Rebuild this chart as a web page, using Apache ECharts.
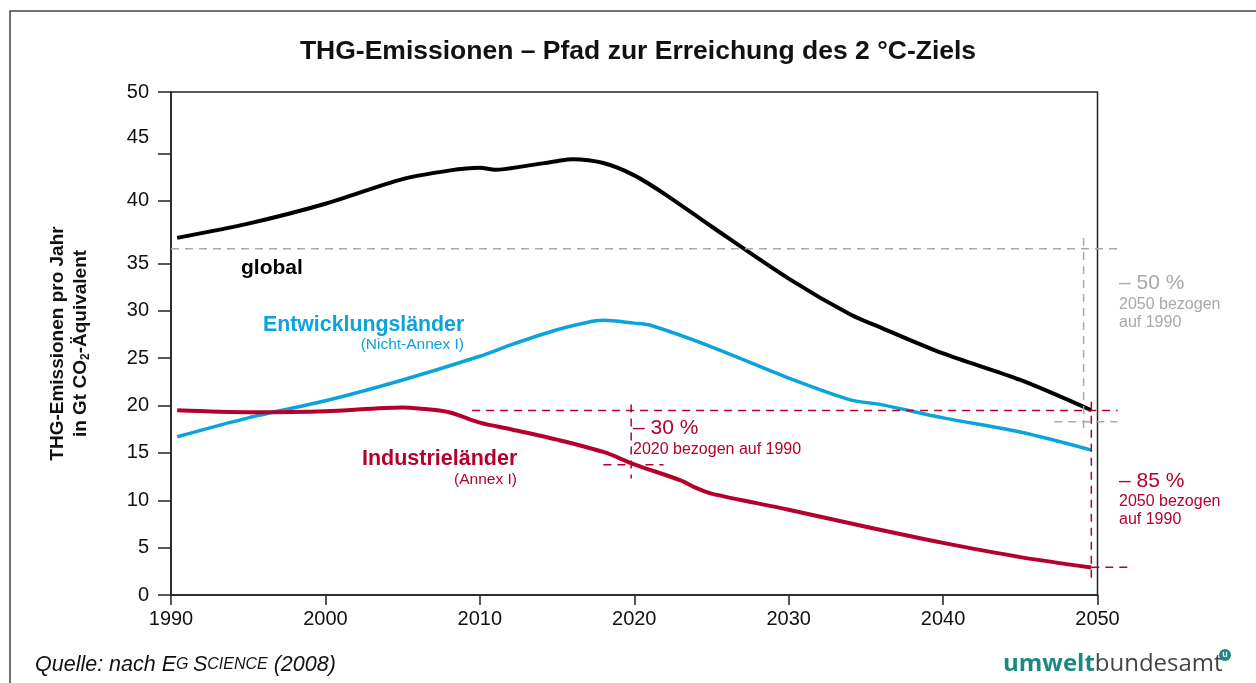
<!DOCTYPE html>
<html>
<head>
<meta charset="utf-8">
<script src="https://cdn.jsdelivr.net/npm/echarts@6/dist/echarts.min.js"></script>
<style>
  html, body { margin: 0; padding: 0; background: #fff; }
  #main { width: 1256px; height: 683px; }
</style>
</head>
<body>
<div id="main"></div>
<script>
// Jahre und Werte (Gt CO2-Äquivalent)
var globalYears = [1990.4, 1995, 2000, 2005, 2008, 2010, 2011, 2013, 2015, 2016, 2018, 2020, 2022, 2025, 2030, 2034, 2036, 2040, 2045, 2049.6];
var globalValues = [37.7, 39.2, 41.3, 43.9, 44.8, 45.1, 44.9, 45.3, 45.8, 46.0, 45.6, 44.3, 42.3, 38.9, 33.4, 29.6, 28.2, 25.5, 22.7, 19.5];

var nichtAnnexYears = [1990.4, 1995, 2000, 2005, 2010, 2012, 2015, 2017, 2018, 2020, 2021, 2025, 2030, 2034, 2036, 2040, 2045, 2049.6];
var nichtAnnexValues = [16.7, 18.7, 20.5, 22.7, 25.2, 26.4, 28.0, 28.8, 29.0, 28.7, 28.5, 26.2, 22.9, 20.6, 20.1, 18.7, 17.2, 15.3];

var annexYears = [1990.4, 1995, 2000, 2005, 2006, 2008, 2010, 2012, 2015, 2018, 2020, 2023, 2024, 2025, 2030, 2035, 2040, 2045, 2049.6];
var annexValues = [19.5, 19.3, 19.4, 19.8, 19.7, 19.3, 18.2, 17.5, 16.4, 15.1, 13.8, 12.1, 11.3, 10.7, 9.0, 7.2, 5.5, 4.0, 2.9];

// Achsenbeschriftung
var yTickValues = [0, 5, 10, 15, 20, 25, 30, 35, 41.6, 46.6, 53.1];
var yLabelValues = [0, 5, 10, 15, 20, 25, 30, 35, 41.6, 48.3, 53.1];
var yLabelTexts = ['0', '5', '10', '15', '20', '25', '30', '35', '40', '45', '50'];

// Bezugslinien (Jahr, Wert) – 1990-Niveau und Minderungsziele
var greyRefLines = [
  [[1990, 36.55], [2051.3, 36.55]],
  [[2049.1, 37.7], [2049.1, 17.6]],
  [[2047.2, 18.3], [2051.3, 18.3]]
];
var redRefLines = [
  [[2009.5, 19.47], [2051.3, 19.47]],
  [[2049.6, 20.4], [2049.6, 1.8]],
  [[2049.6, 2.92], [2052, 2.92]],
  [[2019.8, 20.1], [2019.8, 12.3]],
  [[2018, 13.75], [2021.9, 13.75]]
];

var RED = '#b5002b';
var BLUE = '#0aa3dc';
var GREY = '#a9a9a9';
var FONT = '"Liberation Sans", Arial, sans-serif';

function pairs(xs, ys) {
  return xs.map(function (x, i) { return [x, ys[i]]; });
}

var chart = echarts.init(document.getElementById('main'));

var option = {
  animation: false,
  textStyle: { fontFamily: FONT },
  title: {
    text: 'THG-Emissionen – Pfad zur Erreichung des 2 °C-Ziels',
    left: 633,
    top: 33,
    textAlign: 'center',
    textStyle: { fontSize: 26.5, fontWeight: 'bold', color: '#111', fontFamily: FONT }
  },
  grid: {
    left: 171, right: 158.5, top: 92, bottom: 88,
    show: true, borderColor: '#222', borderWidth: 1.5
  },
  xAxis: {
    type: 'value',
    min: 1990, max: 2050, interval: 10,
    axisLine: { show: true, lineStyle: { color: '#222', width: 1.5 } },
    axisTick: { show: true, length: 10, lineStyle: { color: '#222', width: 1.5 } },
    axisLabel: {
      color: '#111', fontSize: 20, margin: 14, fontFamily: FONT,
      formatter: function (v) { return String(v); }
    },
    splitLine: { show: false }
  },
  yAxis: {
    type: 'value',
    min: 0, max: 53.1,
    name: '{b|THG-Emissionen pro Jahr}\n{b|in Gt CO}{s|2}{b|-Äquivalent}',
    nameLocation: 'middle',
    nameRotate: 90,
    nameGap: 79,
    nameTextStyle: {
      rich: {
        b: { fontSize: 19, fontWeight: 'bold', color: '#111', fontFamily: FONT, lineHeight: 23 },
        s: { fontSize: 12, fontWeight: 'bold', color: '#111', fontFamily: FONT, lineHeight: 23, verticalAlign: 'bottom', padding: [8, 0, 0, 0] }
      }
    },
    axisLine: { show: true, lineStyle: { color: '#222', width: 1.5 } },
    axisTick: { show: true, length: 13, customValues: yTickValues, lineStyle: { color: '#222', width: 1.5 } },
    axisLabel: {
      color: '#111', fontSize: 20, margin: 22, fontFamily: FONT,
      customValues: yLabelValues,
      formatter: function (v) {
        var i = yLabelValues.indexOf(v);
        return i >= 0 ? yLabelTexts[i] : '';
      }
    },
    splitLine: { show: false }
  },
  series: [
    {
      name: 'global',
      type: 'line',
      smooth: 0.3,
      showSymbol: false,
      lineStyle: { color: '#000', width: 4 },
      data: pairs(globalYears, globalValues)
    },
    {
      name: 'Entwicklungsländer',
      type: 'line',
      smooth: 0.3,
      showSymbol: false,
      lineStyle: { color: BLUE, width: 3.5 },
      data: pairs(nichtAnnexYears, nichtAnnexValues)
    },
    {
      name: 'Industrieländer',
      type: 'line',
      smooth: 0.3,
      showSymbol: false,
      lineStyle: { color: RED, width: 4 },
      data: pairs(annexYears, annexValues)
    }
  ]
};

chart.setOption(option);

// gestrichelte Bezugslinien über die Achsenskalen in Pixel umrechnen
function refLine(seg, color) {
  var a = chart.convertToPixel({ gridIndex: 0 }, seg[0]);
  var b = chart.convertToPixel({ gridIndex: 0 }, seg[1]);
  return {
    type: 'line', silent: true, z: 5,
    shape: { x1: a[0], y1: a[1], x2: b[0], y2: b[1] },
    style: { stroke: color, lineWidth: 1.5, lineDash: [8, 6] }
  };
}

var graphics = [
  // Rahmen
  { type: 'rect', shape: { x: 10, y: 11, width: 1300, height: 700 }, style: { fill: null, stroke: '#444', lineWidth: 1.5 }, silent: true },
  { type: 'text', x: 241, y: 268, style: { text: 'global', font: 'bold 21px ' + FONT, fill: '#000', verticalAlign: 'middle' } },
  { type: 'text', x: 263, y: 325, style: { text: 'Entwicklungsländer', font: 'bold 21.3px ' + FONT, fill: BLUE, verticalAlign: 'middle' } },
  { type: 'text', x: 464, y: 345, style: { text: '(Nicht-Annex I)', font: '15.5px ' + FONT, fill: BLUE, align: 'right', verticalAlign: 'middle' } },
  { type: 'text', x: 362, y: 459, style: { text: 'Industrieländer', font: 'bold 21.5px ' + FONT, fill: RED, verticalAlign: 'middle' } },
  { type: 'text', x: 517, y: 480, style: { text: '(Annex I)', font: '15.5px ' + FONT, fill: RED, align: 'right', verticalAlign: 'middle' } },
  { type: 'text', x: 633, y: 428, style: { text: '– 30 %', font: '21px ' + FONT, fill: RED, verticalAlign: 'middle' } },
  { type: 'text', x: 633, y: 450, style: { text: '2020 bezogen auf 1990', font: '16px ' + FONT, fill: RED, verticalAlign: 'middle' } },
  { type: 'text', x: 1119, y: 283, style: { text: '– 50 %', font: '21px ' + FONT, fill: GREY, verticalAlign: 'middle' } },
  { type: 'text', x: 1119, y: 305, style: { text: '2050 bezogen', font: '16px ' + FONT, fill: GREY, verticalAlign: 'middle' } },
  { type: 'text', x: 1119, y: 323, style: { text: 'auf 1990', font: '16px ' + FONT, fill: GREY, verticalAlign: 'middle' } },
  { type: 'text', x: 1119, y: 481, style: { text: '– 85 %', font: '21px ' + FONT, fill: RED, verticalAlign: 'middle' } },
  { type: 'text', x: 1119, y: 502, style: { text: '2050 bezogen', font: '16px ' + FONT, fill: RED, verticalAlign: 'middle' } },
  { type: 'text', x: 1119, y: 520, style: { text: 'auf 1990', font: '16px ' + FONT, fill: RED, verticalAlign: 'middle' } },
  // Quelle
  {
    type: 'text', x: 35, y: 665,
    style: {
      text: '{a|Quelle: nach E}{c|G }{a|S}{c|CIENCE}{a| (2008)}',
      verticalAlign: 'middle',
      rich: {
        a: { font: 'italic 21.5px ' + FONT, fill: '#111' },
        c: { font: 'italic 16px ' + FONT, fill: '#111' }
      }
    }
  },
  // Logo
  {
    type: 'text', x: 1003, y: 664,
    style: {
      text: '{u|umwelt}{b|bundesamt}',
      verticalAlign: 'middle',
      rich: {
        u: { font: 'bold 24px "Open Sans", sans-serif', fill: '#1a8a80' },
        b: { font: '24px "Open Sans", sans-serif', fill: '#444' }
      }
    }
  },
  { type: 'circle', shape: { cx: 1225, cy: 655, r: 6 }, style: { fill: '#1a8a80' } },
  { type: 'text', x: 1225, y: 655, style: { text: 'u', font: 'bold 9px ' + FONT, fill: '#fff', align: 'center', verticalAlign: 'middle' } }
];

greyRefLines.forEach(function (s) { graphics.push(refLine(s, GREY)); });
redRefLines.forEach(function (s) { graphics.push(refLine(s, RED)); });

chart.setOption({ graphic: graphics });
</script>
</body>
</html>
